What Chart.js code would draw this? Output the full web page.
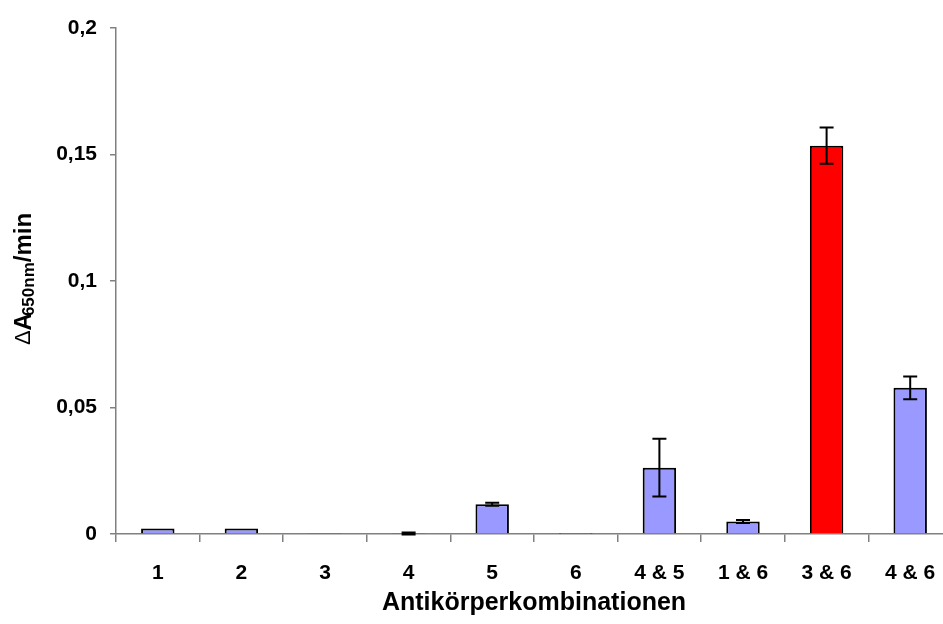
<!DOCTYPE html>
<html>
<head>
<meta charset="utf-8">
<script src="https://cdn.jsdelivr.net/npm/chart.js@4"></script>
<style>
  html, body { margin: 0; padding: 0; background: #fff; overflow: hidden; }
  #wrap { width: 960px; height: 624px; }
</style>
</head>
<body>
<div id="wrap"><canvas id="chart"></canvas></div>
<script>
const categories = ['1', '2', '3', '4', '5', '6', '4 & 5', '1 & 6', '3 & 6', '4 & 6'];
const values = [0.0022, 0.0022, 0.0002, 0.0002, 0.0118, 0.0001, 0.0262, 0.0049, 0.1535, 0.0578];
const errors = [0, 0, 0, 0.0004, 0.0006, 0, 0.0114, 0.0006, 0.0072, 0.0045];
const yTicks = [0, 0.05, 0.1, 0.15, 0.2];
const yTickLabels = ['0', '0,05', '0,1', '0,15', '0,2'];
const highlight = '3 & 6';

const font = "'Liberation Sans', Arial, sans-serif";

// error bars drawn from the y scale
const errorBars = {
  id: 'errorBars',
  afterDatasetsDraw(chart) {
    const ctx = chart.ctx;
    const y = chart.scales.y;
    const meta = chart.getDatasetMeta(0);
    ctx.save();
    ctx.strokeStyle = '#000';
    ctx.lineWidth = 2;
    meta.data.forEach((bar, i) => {
      if (!errors[i]) return;
      const top = y.getPixelForValue(values[i] + errors[i]);
      const bot = y.getPixelForValue(values[i] - errors[i]);
      const x = bar.x;
      ctx.beginPath();
      ctx.moveTo(x, top); ctx.lineTo(x, bot);
      ctx.moveTo(x - 7, top); ctx.lineTo(x + 7, top);
      ctx.moveTo(x - 7, bot); ctx.lineTo(x + 7, bot);
      ctx.stroke();
    });
    ctx.restore();
  }
};

// y title with subscript
const yTitle = {
  id: 'yTitle',
  afterDraw(chart) {
    const ctx = chart.ctx;
    const area = chart.chartArea;
    const parts = [
      { t: '\u0394', f: '22px ' + font, dy: 0, k: 0 },
      { t: 'A', f: 'bold 24px ' + font, dy: 0, k: -3 },
      { t: '650nm', f: 'bold 17px ' + font, dy: 5, k: 0 },
      { t: '/min', f: 'bold 24px ' + font, dy: 0, k: 0 }
    ];
    ctx.save();
    let total = 0;
    parts.forEach(p => { ctx.font = p.f; p.w = ctx.measureText(p.t).width + p.k; total += p.w; });
    ctx.translate(24, (area.top + area.bottom) / 2 - 2);
    ctx.rotate(-Math.PI / 2);
    ctx.fillStyle = '#000';
    ctx.textBaseline = 'middle';
    let x = -total / 2;
    parts.forEach(p => {
      ctx.font = p.f;
      ctx.fillText(p.t, x, p.dy);
      x += p.w;
    });
    ctx.restore();
  }
};

new Chart(document.getElementById('chart'), {
  type: 'bar',
  data: {
    labels: categories,
    datasets: [{
      data: values,
      backgroundColor: categories.map(c => c === highlight ? '#FF0000' : '#9999FF'),
      borderColor: '#000',
      borderWidth: 2,
      categoryPercentage: 1,
      barPercentage: 0.4
    }]
  },
  options: {
    responsive: true,
    maintainAspectRatio: false,
    animation: false,
    layout: { padding: { top: 28, right: 8, left: 0, bottom: 0 } },
    plugins: { legend: { display: false }, tooltip: { enabled: false } },
    scales: {
      x: {
        offset: true,
        grid: { offset: true, drawOnChartArea: false, tickLength: 8, color: '#808080', lineWidth: 1.5 },
        border: { color: '#808080', width: 1.5 },
        ticks: { color: '#000', font: { family: font, size: 21, weight: 'bold' }, padding: 19, maxRotation: 0 },
        title: { display: true, text: 'Antikörperkombinationen', color: '#000', font: { family: font, size: 25, weight: 'bold' }, padding: { top: 4, bottom: 6 } },
        afterFit: s => { s.height = 90; }
      },
      y: {
        min: 0,
        max: 0.2,
        afterBuildTicks: s => { s.ticks = yTicks.map(v => ({ value: v })); },
        grid: { drawOnChartArea: false, tickLength: 6, color: '#808080', lineWidth: 1.5 },
        border: { color: '#808080', width: 1.5 },
        ticks: {
          color: '#000',
          font: { family: font, size: 21, weight: 'bold' },
          padding: 13,
          callback: (v) => yTickLabels[yTicks.indexOf(v)]
        },
        afterFit: s => { s.width = 116; }
      }
    }
  },
  plugins: [errorBars, yTitle]
});
</script>
</body>
</html>
